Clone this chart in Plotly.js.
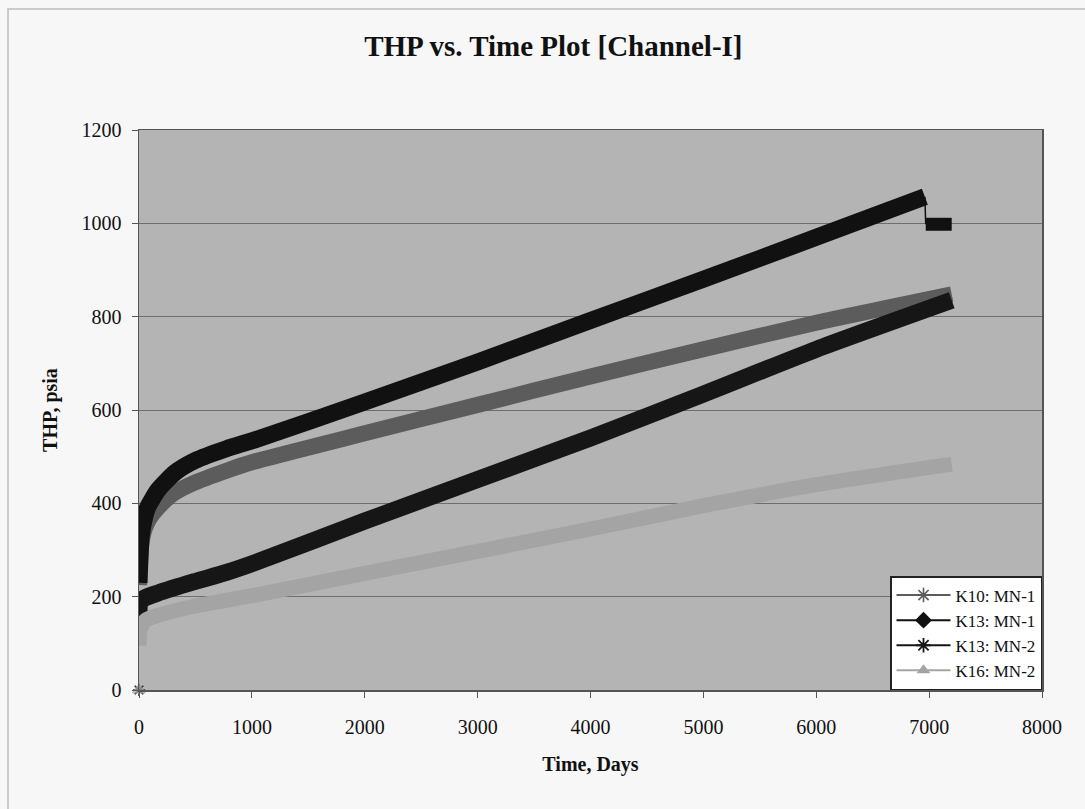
<!DOCTYPE html>
<html>
<head>
<meta charset="utf-8">
<script src="https://cdn.plot.ly/plotly-3.0.1.min.js"></script>
<style>
  html, body { margin: 0; padding: 0; background: #f7f7f7; }
  #chart { width: 1085px; height: 809px; }
</style>
</head>
<body>
<div id="chart"></div>
<script>
// ---- Data ----
// Time, days / THP, psia
const seriesNames = ["K10: MN-1", "K13: MN-1", "K13: MN-2", "K16: MN-2"];

const k10mn1Days = [0, 20, 50, 100, 170, 300, 490, 775, 1000, 2000, 3000, 4000, 5000, 6000, 7200];
const k10mn1THP  = [225, 310, 345, 370, 391, 420, 444, 470, 488, 550, 611, 672, 730, 787, 848];

const k13mn1Days = [0, 20, 50, 80, 170, 320, 500, 775, 1040, 2000, 3000, 4000, 5000, 6000, 6962, 6970, 7200];
const k13mn1THP  = [230, 330, 370, 393, 429, 466, 492, 517, 537, 617, 703, 792, 880, 970, 1057, 998, 998];

const k13mn2Days = [0, 10, 50, 170, 490, 775, 1040, 2000, 3000, 4000, 5000, 6000, 7200];
const k13mn2THP  = [132, 188, 197, 208, 232, 252, 274, 362, 451, 540, 634, 730, 835];

const k16mn2Days = [0, 10, 60, 200, 500, 1000, 2000, 3000, 4000, 5000, 6000, 7200];
const k16mn2THP  = [95, 130, 150, 162, 180, 202, 250, 297, 345, 395, 440, 484];

// isolated points at the origin
const originDays = [0, 0, 0];
const originTHP  = [0, 0, 0];

const xTicks = [0, 1000, 2000, 3000, 4000, 5000, 6000, 7000, 8000];
const yTicks = [0, 200, 400, 600, 800, 1000, 1200];

// ---- Styles ----
const FONT = "Liberation Serif, Times New Roman, serif";
const cK10 = "#5c5c5c", cK13a = "#111111", cK13b = "#161616", cK16 = "#a4a4a4";

// split K13: MN-1 where the pressure drops sharply (thin connector there)
let brk = -1;
for (let i = 0; i < k13mn1THP.length - 1; i++) {
  if (k13mn1THP[i + 1] < k13mn1THP[i] - 20) { brk = i; break; }
}

const bandTrace = (x, y, color, width, name) => ({
  x: x, y: y, type: "scatter", mode: "lines", name: name,
  line: { color: color, width: width, shape: "spline", smoothing: 0.6 },
  showlegend: false, hoverinfo: "x+y"
});

const traces = [
  bandTrace(k10mn1Days, k10mn1THP, cK10, 16, seriesNames[0]),
  bandTrace(k13mn1Days.slice(0, brk + 1), k13mn1THP.slice(0, brk + 1), cK13a, 17, seriesNames[1]),
  {
    x: [k13mn1Days[brk], k13mn1Days[brk + 1]], y: [k13mn1THP[brk], k13mn1THP[brk + 1]],
    type: "scatter", mode: "lines", line: { color: cK13a, width: 1.5 },
    showlegend: false, hoverinfo: "skip"
  },
  bandTrace(k13mn1Days.slice(brk + 1), k13mn1THP.slice(brk + 1), cK13a, 13, seriesNames[1]),
  bandTrace(k13mn2Days, k13mn2THP, cK13b, 17, seriesNames[2]),
  bandTrace(k16mn2Days, k16mn2THP, cK16, 15, seriesNames[3]),
  {
    x: originDays, y: originTHP, type: "scatter", mode: "markers",
    marker: { symbol: ["asterisk-open", "asterisk-open", "triangle-up"], size: [10, 10, 11],
              color: [cK10, cK13b, cK16], line: { width: 1.5, color: [cK10, cK13b, cK16] } },
    showlegend: false, cliponaxis: false, hoverinfo: "skip"
  },
  // legend entries
  { x: [null], y: [null], type: "scatter", mode: "lines+markers", name: seriesNames[0],
    line: { color: cK10, width: 2 },
    marker: { symbol: "asterisk-open", size: 12, color: cK10, line: { width: 1.6, color: cK10 } } },
  { x: [null], y: [null], type: "scatter", mode: "lines+markers", name: seriesNames[1],
    line: { color: cK13a, width: 2 },
    marker: { symbol: "diamond", size: 13, color: cK13a } },
  { x: [null], y: [null], type: "scatter", mode: "lines+markers", name: seriesNames[2],
    line: { color: cK13b, width: 2 },
    marker: { symbol: "asterisk-open", size: 12, color: cK13b, line: { width: 1.8, color: cK13b } } },
  { x: [null], y: [null], type: "scatter", mode: "lines+markers", name: seriesNames[3],
    line: { color: cK16, width: 2 },
    marker: { symbol: "triangle-up", size: 12, color: cK16 } }
];

const L = 139, R = 43, T = 130, B = 119;
const PW = 1085 - L - R, PH = 809 - T - B;
const px2x = px => (px - L) / PW;
const py2y = py => (809 - B - py) / PH;

const layout = {
  width: 1085, height: 809,
  margin: { l: L, r: R, t: T, b: B, pad: 0 },
  paper_bgcolor: "#f7f7f7",
  plot_bgcolor: "#b4b4b4",
  font: { family: FONT, color: "#111", size: 20 },
  title: {
    text: "<b>THP vs. Time Plot [Channel-I]</b>",
    font: { family: FONT, size: 29, color: "#111" },
    x: 0.51, xanchor: "center", y: 1 - 46 / 809, yanchor: "middle"
  },
  xaxis: {
    range: [0, 8000], tickvals: xTicks, ticktext: xTicks.map(String),
    showgrid: false, zeroline: false,
    showline: true, linecolor: "#555", linewidth: 1.5, mirror: true,
    ticks: "outside", ticklen: 6, tickcolor: "#555", tickwidth: 1,
    ticklabelstandoff: 12,
    tickfont: { family: FONT, size: 20, color: "#111" },
    title: { text: "<b>Time, Days</b>", font: { family: FONT, size: 20, color: "#111" }, standoff: 20 },
    automargin: false
  },
  yaxis: {
    range: [0, 1200], tickvals: yTicks, ticktext: yTicks.map(String),
    showgrid: true, gridcolor: "#6e6e6e", gridwidth: 1, zeroline: false,
    showline: true, linecolor: "#555", linewidth: 1.5, mirror: true,
    ticks: "outside", ticklen: 6, tickcolor: "#555", tickwidth: 1,
    ticklabelstandoff: 6,
    tickfont: { family: FONT, size: 20, color: "#111" },
    title: { text: "<b>THP, psia</b>", font: { family: FONT, size: 20, color: "#111" }, standoff: 18 },
    automargin: false
  },
  legend: {
    x: 1, xanchor: "right", y: 0, yanchor: "bottom",
    bgcolor: "#ffffff", bordercolor: "#222", borderwidth: 1.5,
    font: { family: FONT, size: 17, color: "#111" },
    tracegroupgap: 0, itemwidth: 54
  },
  shapes: [
    { type: "rect", xref: "paper", yref: "paper", layer: "below",
      x0: px2x(8), x1: px2x(1095), y0: py2y(820), y1: py2y(9),
      line: { color: "#bdbdbd", width: 1.5 }, fillcolor: "rgba(0,0,0,0)" }
  ],
  showlegend: true
};

Plotly.newPlot("chart", traces, layout, { displayModeBar: false, staticPlot: true });
</script>
</body>
</html>
